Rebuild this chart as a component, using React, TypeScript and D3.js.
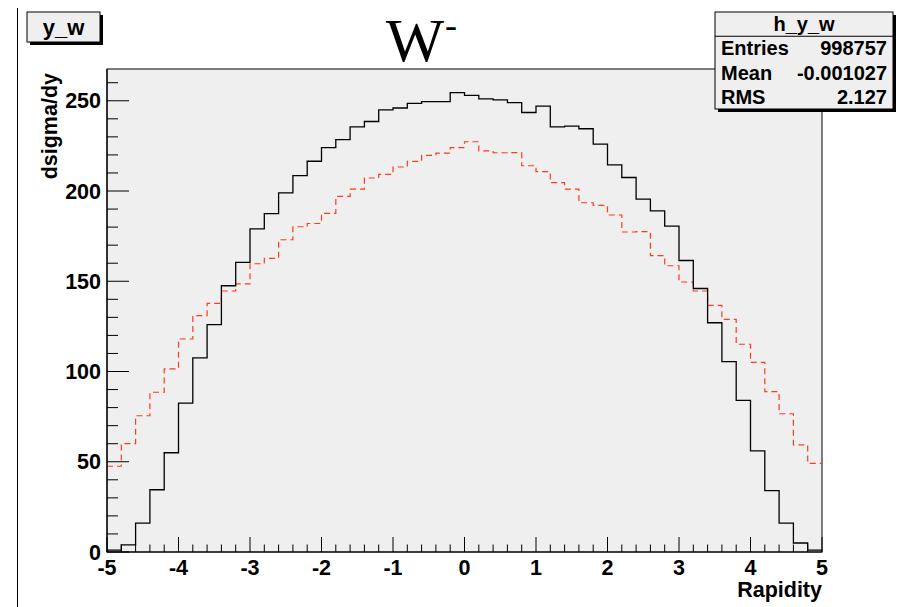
import React from "react";
import * as d3 from "d3";

const binEdgesStart = -5;
const binWidth = 0.2;
const blackValues = [1, 4, 16, 34.5, 55, 82.5, 107.5, 126, 147.5, 160.5, 179, 187.5, 199, 208.5, 216.5, 224, 228.5, 235.5, 238.5, 245, 246, 248.5, 249.5, 249.5, 254.5, 253, 251, 250.5, 249, 243.5, 247, 235.5, 236, 234.5, 226, 214.5, 207.5, 195.5, 189, 180.5, 161.5, 146, 127, 105.5, 84, 56, 34, 16, 5, 1];
const redValues = [47.5, 60, 75.5, 88.5, 101.5, 118, 131, 137.7, 144.6, 148.5, 159.7, 162.7, 173, 180.2, 182, 187.6, 197, 201, 207.2, 209.2, 213.3, 216.4, 219.8, 221, 224, 227.3, 222.2, 221.2, 221.3, 214, 210.7, 204.6, 201.1, 193.5, 192, 186.7, 177.3, 177.5, 164.2, 158.6, 149.6, 144.6, 136.6, 128.9, 115.1, 105.1, 88.8, 76.6, 59.4, 49.1];
const xTickValues = [-5, -4, -3, -2, -1, 0, 1, 2, 3, 4, 5];
const yTickValues = [0, 50, 100, 150, 200, 250];
const statsRows = [
  ["Entries", "998757"],
  ["Mean", "-0.001027"],
  ["RMS", "2.127"],
];

const SANS = "'Liberation Sans', Arial, Helvetica, sans-serif";
const SERIF = "'Liberation Serif', 'Times New Roman', serif";

export default function App() {
  const L = 107, R = 822, T = 69, B = 552;
  const x = d3.scaleLinear().domain([-5, 5]).range([L, R]);
  const y = d3.scaleLinear().domain([0, 267.6]).range([B, T]);

  const stepPts = (vals: number[]) => {
    const pts = vals.map((v, i) => [binEdgesStart + i * binWidth, v] as [number, number]);
    pts.push([binEdgesStart + vals.length * binWidth, vals[vals.length - 1]]);
    return pts;
  };
  const line = d3
    .line<[number, number]>()
    .x((d) => x(d[0]))
    .y((d) => y(d[1]))
    .curve(d3.curveStepAfter);

  const xMinor = d3.range(-5, 5.0001, 0.2).map((v) => +v.toFixed(2));
  const yMinor = d3.range(0, 261, 10);

  const boxX = 715, boxY = 12, boxW = 178, boxH = 97;
  const rowH = boxH / 4;

  return (
    <svg width={903} height={607} style={{ position: "absolute", left: 0, top: 0, background: "#fff" }}>
      <rect x={0} y={0} width={903} height={607} fill="#fff" />
      <line x1={17.5} y1={8} x2={17.5} y2={607} stroke="#000" strokeWidth={1} />

      {/* frame */}
      <rect x={L} y={T} width={R - L} height={B - T} fill="#efefef" stroke="#000" strokeWidth={1} />

      {/* y ticks */}
      {yMinor.map((v) => {
        const major = v % 50 === 0;
        return (
          <line key={"ym" + v} x1={L} x2={L + (major ? 22 : 11)} y1={y(v)} y2={y(v)} stroke="#000" strokeWidth={1} />
        );
      })}
      {/* x ticks */}
      {xMinor.map((v, i) => {
        const major = i % 5 === 0;
        return (
          <line key={"xm" + i} x1={x(v)} x2={x(v)} y1={B} y2={B - (major ? 15 : 7.5)} stroke="#000" strokeWidth={1} />
        );
      })}

      {/* histograms */}
      <path d={line(stepPts(redValues)) || ""} fill="none" stroke="#ff3b1f" strokeWidth={1.2} strokeDasharray="6,4" />
      <path d={line(stepPts(blackValues)) || ""} fill="none" stroke="#000" strokeWidth={1.3} />

      {/* axis lines */}
      <line x1={L} x2={R} y1={B} y2={B} stroke="#000" strokeWidth={1.2} />
      <line x1={L} x2={L} y1={T} y2={B} stroke="#000" strokeWidth={1.2} />

      {/* y tick labels */}
      {yTickValues.map((v) => (
        <text key={"yl" + v} x={101} y={y(v) + 7.5} textAnchor="end" fontFamily={SANS} fontWeight="bold" fontSize={21.5}>
          {v}
        </text>
      ))}
      {/* x tick labels */}
      {xTickValues.map((v) => (
        <text key={"xl" + v} x={x(v)} y={575} textAnchor="middle" fontFamily={SANS} fontWeight="bold" fontSize={21.5}>
          {v}
        </text>
      ))}

      {/* axis titles */}
      <text x={R} y={597} textAnchor="end" fontFamily={SANS} fontWeight="bold" fontSize={21.5}>
        Rapidity
      </text>
      <text transform={`translate(57,73) rotate(-90)`} textAnchor="end" fontFamily={SANS} fontWeight="bold" fontSize={21.5}>
        dsigma/dy
      </text>

      {/* title */}
      <text x={415} y={61} textAnchor="middle" fontFamily={SERIF} fontSize={62}>
        W
      </text>
      <text x={445} y={37} fontFamily={SERIF} fontSize={36}>
        -
      </text>

      {/* y_w label box */}
      <rect x={30} y={15} width={73} height={30} fill="#000" />
      <rect x={27} y={12} width={73} height={30} fill="#efefef" stroke="#000" strokeWidth={1} />
      <text x={63.5} y={34.5} textAnchor="middle" fontFamily={SANS} fontWeight="bold" fontSize={22}>
        y_w
      </text>

      {/* stats box */}
      <rect x={boxX + 3} y={boxY + 3} width={boxW} height={boxH} fill="#000" />
      <rect x={boxX} y={boxY} width={boxW} height={boxH} fill="#efefef" stroke="#000" strokeWidth={1} />
      <line x1={boxX} x2={boxX + boxW} y1={boxY + rowH} y2={boxY + rowH} stroke="#000" strokeWidth={1} />
      <text x={boxX + boxW / 2} y={boxY + rowH / 2 + 7} textAnchor="middle" fontFamily={SANS} fontWeight="bold" fontSize={20}>
        h_y_w
      </text>
      {statsRows.map((r, i) => {
        const cy = boxY + rowH * (i + 1.5) + 7;
        return (
          <g key={r[0]}>
            <text x={boxX + 6} y={cy} fontFamily={SANS} fontWeight="bold" fontSize={20}>
              {r[0]}
            </text>
            <text x={boxX + boxW - 6} y={cy} textAnchor="end" fontFamily={SANS} fontWeight="bold" fontSize={20}>
              {r[1]}
            </text>
          </g>
        );
      })}
    </svg>
  );
}
